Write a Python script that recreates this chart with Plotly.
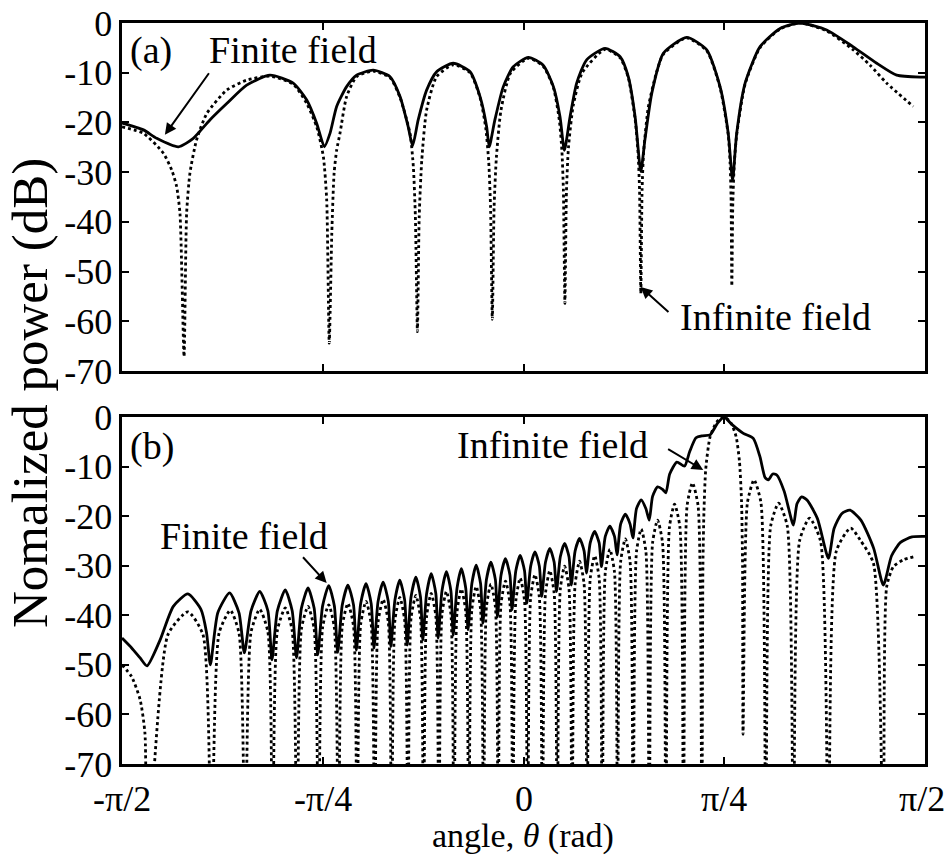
import math
import plotly.graph_objects as go

PI = math.pi

# ---------------- tick definitions ----------------
x_tick_vals = [-PI / 2, -PI / 4, 0.0, PI / 4, PI / 2]
x_tick_text = ["-π/2", "-π/4", "0", "π/4", "π/2"]
y_tick_vals = [0, -10, -20, -30, -40, -50, -60, -70]
y_tick_text = ["0", "-10", "-20", "-30", "-40", "-50", "-60", "-70"]

# ---------------- panel (a): (theta [rad], power [dB]) ----------------
a_finite = [
    (-1.5708, -20.1), (-1.487, -21.5), (-1.435, -23.2), (-1.350, -24.9), (-1.292, -23.2),
    (-1.227, -19.5), (-1.161, -16.2), (-1.083, -12.5), (-0.992, -10.5), (-0.901, -12.1),
    (-0.848, -15.5), (-0.809, -20.2), (-0.779, -24.9), (-0.757, -22.2), (-0.731, -16.8),
    (-0.692, -12.8), (-0.653, -10.5), (-0.588, -9.5), (-0.522, -10.8), (-0.483, -14.8),
    (-0.451, -20.9), (-0.434, -24.7), (-0.412, -19.5), (-0.379, -13.5), (-0.340, -9.8),
    (-0.275, -8.1), (-0.209, -9.8), (-0.170, -14.8), (-0.144, -20.9), (-0.134, -24.9),
    (-0.112, -19.5), (-0.079, -12.8), (-0.040, -8.8), (0.019, -6.9), (0.077, -8.5),
    (0.117, -12.8), (0.143, -18.9), (0.160, -25.6), (0.182, -18.9), (0.208, -12.1),
    (0.247, -7.4), (0.319, -5.1), (0.378, -6.8), (0.410, -10.8), (0.437, -19.0),
    (0.459, -29.9), (0.475, -23.5), (0.502, -14.1), (0.547, -6.1), (0.638, -2.9),
    (0.717, -5.4), (0.769, -12.8), (0.801, -22.2), (0.818, -31.6), (0.834, -22.2),
    (0.867, -12.1), (0.925, -4.8), (1.004, -1.1), (1.082, 0.0), (1.186, -1.4),
    (1.290, -4.8), (1.382, -8.1), (1.460, -10.5), (1.558, -10.9), (1.5708, -10.9),
]

a_infinite = [
    (-1.5708, -20.9), (-1.487, -22.2), (-1.409, -26.2), (-1.376, -29.6), (-1.357, -32.9),
    (-1.344, -38.3), (-1.328, -67.1), (-1.318, -38.3), (-1.305, -30.2), (-1.279, -23.5),
    (-1.239, -18.2), (-1.161, -13.5), (-1.083, -11.5), (-0.992, -10.7), (-0.901, -12.3),
    (-0.848, -16.2), (-0.809, -20.9), (-0.783, -26.9), (-0.770, -35.6), (-0.760, -64.4),
    (-0.750, -42.3), (-0.741, -30.2), (-0.731, -25.6), (-0.718, -22.2), (-0.692, -14.8),
    (-0.653, -10.8), (-0.588, -9.7), (-0.522, -11.0), (-0.483, -15.0), (-0.444, -22.2),
    (-0.431, -28.9), (-0.423, -39.0), (-0.415, -62.1), (-0.408, -39.0), (-0.398, -27.6),
    (-0.379, -17.5), (-0.340, -10.8), (-0.275, -8.4), (-0.209, -10.0), (-0.170, -15.0),
    (-0.148, -21.0), (-0.136, -28.0), (-0.129, -37.0), (-0.122, -59.6), (-0.115, -37.0),
    (-0.106, -27.0), (-0.088, -17.5), (-0.050, -10.0), (0.019, -7.1), (0.077, -8.7),
    (0.117, -13.0), (0.140, -19.5), (0.150, -25.5), (0.156, -33.5), (0.162, -56.4),
    (0.168, -34.0), (0.176, -25.0), (0.195, -16.5), (0.230, -10.0), (0.319, -5.3),
    (0.378, -7.0), (0.410, -11.0), (0.437, -19.5), (0.448, -26.0), (0.454, -33.5),
    (0.459, -54.4), (0.464, -33.5), (0.470, -26.0), (0.488, -17.0), (0.520, -10.0),
    (0.547, -6.3), (0.638, -3.0), (0.717, -5.6), (0.769, -13.0), (0.801, -22.5),
    (0.808, -28.0), (0.812, -35.0), (0.815, -52.9), (0.819, -36.0), (0.825, -28.0),
    (0.834, -22.5), (0.867, -12.3), (0.925, -5.0), (1.004, -1.2), (1.082, 0.0),
    (1.186, -1.6), (1.290, -5.4), (1.356, -8.5), (1.421, -12.1), (1.525, -16.8),
]

# ---------------- panel (b) ----------------
b_finite = [
    (-1.5708, -44.6), (-1.533, -46.6), (-1.500, -48.6), (-1.473, -50.2),
    (-1.422, -45.0), (-1.370, -38.2), (-1.313, -35.7), (-1.262, -38.8), (-1.240, -43.5), (-1.225, -50.0),
    (-1.196, -39.5), (-1.150, -35.5), (-1.113, -39.5), (-1.092, -47.6),
    (-1.066, -39.1), (-1.032, -35.2), (-1.000, -39.1), (-0.984, -49.0),
    (-0.963, -39.1), (-0.932, -34.9), (-0.905, -39.1), (-0.888, -48.6),
    (-0.869, -38.6), (-0.843, -34.5), (-0.819, -38.6), (-0.805, -48.0),
    (-0.786, -38.1), (-0.762, -34.0), (-0.740, -38.1), (-0.727, -47.5),
    (-0.709, -37.9), (-0.687, -33.9), (-0.665, -37.9), (-0.654, -47.0),
    (-0.637, -37.6), (-0.616, -33.6), (-0.596, -37.6), (-0.585, -46.6),
    (-0.569, -37.2), (-0.549, -33.3), (-0.529, -37.2), (-0.519, -46.3),
    (-0.503, -36.9), (-0.484, -32.9), (-0.465, -36.9), (-0.455, -46.0),
    (-0.440, -36.3), (-0.421, -32.3), (-0.403, -36.3), (-0.394, -45.0),
    (-0.379, -35.6), (-0.361, -31.6), (-0.343, -35.6), (-0.334, -44.6),
    (-0.319, -35.1), (-0.3015, -31.2), (-0.284, -35.1), (-0.275, -44.0),
    (-0.260, -34.5), (-0.243, -30.6), (-0.226, -34.5), (-0.217, -42.9),
    (-0.202, -33.6), (-0.185, -29.9), (-0.168, -33.6), (-0.159, -41.6),
    (-0.145, -32.8), (-0.1275, -29.3), (-0.110, -32.8), (-0.102, -40.3),
    (-0.088, -31.9), (-0.0705, -28.6), (-0.053, -31.9), (-0.045, -38.9),
    (-0.030, -31.0), (-0.013, -27.9), (0.004, -31.0), (0.013, -37.6),
    (0.028, -30.1), (0.045, -27.2), (0.062, -30.1), (0.071, -36.2),
    (0.086, -29.3), (0.103, -26.5), (0.120, -29.3), (0.129, -35.2),
    (0.144, -28.2), (0.161, -25.5), (0.178, -28.2), (0.187, -33.9),
    (0.202, -27.0), (0.2195, -24.5), (0.237, -27.0), (0.246, -31.5),
    (0.261, -25.4), (0.2785, -23.1), (0.296, -25.4), (0.305, -30.2),
    (0.320, -24.1), (0.338, -22.0), (0.356, -24.1), (0.366, -27.8),
    (0.380, -21.6), (0.3985, -19.6), (0.417, -21.6), (0.428, -24.4),
    (0.442, -18.5), (0.4605, -16.7), (0.479, -18.5), (0.492, -20.8),
    (0.505, -16.0), (0.5245, -14.1), (0.544, -14.6), (0.557, -15.3),
    (0.572, -11.5), (0.600, -9.1), (0.630, -9.9), (0.650, -7.0), (0.675, -4.2),
    (0.700, -3.8), (0.730, -3.6), (0.760, -1.2), (0.785, 0.0), (0.815, -1.5),
    (0.860, -3.3), (0.899, -4.3), (0.925, -8.0), (0.945, -12.2), (0.958, -12.7),
    (0.975, -11.5), (0.991, -11.7), (1.020, -15.0), (1.056, -21.8), (1.070, -17.5),
    (1.088, -16.1), (1.110, -16.8), (1.150, -20.5), (1.193, -28.5), (1.215, -22.5),
    (1.245, -19.5), (1.277, -18.8), (1.320, -20.8), (1.370, -26.5), (1.408, -33.9),
    (1.440, -28.0), (1.475, -25.3), (1.520, -24.2), (1.5708, -24.1),
]

b_infinite = [
    (-1.5708, -50.0), (-1.533, -52.4), (-1.500, -57.0), (-1.481, -63.8), (-1.472, -90.0),
    (-1.391, -43.9), (-1.313, -39.3), (-1.254, -43.9), (-1.221, -90.0),
    (-1.191, -43.6), (-1.147, -39.0), (-1.113, -43.6), (-1.089, -90.0),
    (-1.066, -43.4), (-1.032, -38.8), (-1.000, -43.4), (-0.982, -90.0),
    (-0.963, -43.1), (-0.932, -38.5), (-0.905, -43.1), (-0.886, -90.0),
    (-0.869, -42.8), (-0.843, -38.2), (-0.819, -42.8), (-0.802, -90.0),
    (-0.786, -42.5), (-0.762, -37.9), (-0.740, -42.5), (-0.724, -90.0),
    (-0.709, -42.2), (-0.687, -37.6), (-0.665, -42.2), (-0.651, -90.0),
    (-0.637, -41.8), (-0.616, -37.2), (-0.596, -41.8), (-0.582, -90.0),
    (-0.569, -41.4), (-0.549, -36.8), (-0.529, -41.4), (-0.516, -90.0),
    (-0.503, -41.0), (-0.484, -36.4), (-0.465, -41.0), (-0.452, -90.0),
    (-0.440, -40.6), (-0.421, -36.0), (-0.403, -40.6), (-0.391, -90.0),
    (-0.379, -40.2), (-0.361, -35.6), (-0.343, -40.2), (-0.331, -90.0),
    (-0.319, -39.8), (-0.3015, -35.2), (-0.284, -39.8), (-0.272, -90.0),
    (-0.260, -39.3), (-0.243, -34.7), (-0.226, -39.3), (-0.214, -90.0),
    (-0.202, -38.8), (-0.185, -34.2), (-0.168, -38.8), (-0.156, -90.0),
    (-0.145, -38.3), (-0.1275, -33.7), (-0.110, -38.3), (-0.099, -90.0),
    (-0.088, -37.7), (-0.0705, -33.1), (-0.053, -37.7), (-0.042, -90.0),
    (-0.030, -37.1), (-0.013, -32.5), (0.004, -37.1), (0.016, -90.0),
    (0.028, -36.4), (0.045, -31.8), (0.062, -36.4), (0.074, -90.0),
    (0.086, -35.6), (0.103, -31.0), (0.120, -35.6), (0.132, -90.0),
    (0.144, -34.7), (0.161, -30.1), (0.178, -34.7), (0.190, -90.0),
    (0.202, -33.7), (0.2195, -29.1), (0.237, -33.7), (0.249, -90.0),
    (0.261, -32.6), (0.2785, -28.0), (0.296, -32.6), (0.308, -90.0),
    (0.320, -31.3), (0.338, -26.7), (0.356, -31.3), (0.368, -90.0),
    (0.380, -29.2), (0.3985, -24.6), (0.417, -29.2), (0.429, -90.0),
    (0.442, -27.2), (0.4605, -22.6), (0.479, -27.2), (0.492, -90.0),
    (0.505, -25.4), (0.5245, -20.8), (0.544, -25.4), (0.557, -90.0),
    (0.571, -22.2), (0.591, -17.6), (0.612, -22.2), (0.626, -90.0),
    (0.640, -17.9), (0.661, -13.3), (0.683, -17.9), (0.6975, -90.0),
    (0.702, -30.0), (0.706, -19.0), (0.713, -10.5), (0.730, -4.0), (0.756, -1.0),
    (0.785, 0.0), (0.812, -1.2), (0.832, -4.0), (0.845, -9.0), (0.853, -17.0),
    (0.857, -30.0), (0.859, -64.0),
    (0.876, -17.3), (0.902, -12.7), (0.929, -17.3), (0.948, -90.0),
    (0.967, -22.0), (0.998, -17.4), (1.032, -22.0), (1.056, -90.0),
    (1.080, -25.0), (1.119, -20.4), (1.162, -25.0), (1.193, -90.0),
    (1.224, -27.0), (1.280, -22.4), (1.317, -24.8), (1.369, -29.5), (1.408, -90.0),
    (1.421, -34.2), (1.447, -30.2), (1.486, -28.8), (1.525, -28.2),
]

FONT = "Liberation Serif, Times New Roman, serif"
FS_TICK = 36
FS_ANN = 38
FS_YTITLE = 51
FS_XTITLE = 34


def xy(points):
    return [p[0] for p in points], [p[1] for p in points]


fig = go.Figure()

solid = dict(color="black", width=2.8, shape="spline", smoothing=0.6)
dotted = dict(color="black", width=2.8, dash="3px,3px", shape="spline", smoothing=0.6)

for pts, line, xa, ya in [
    (a_infinite, dotted, "x", "y"),
    (a_finite, solid, "x", "y"),
    (b_infinite, dotted, "x2", "y2"),
    (b_finite, solid, "x2", "y2"),
]:
    xs, ys = xy(pts)
    fig.add_trace(go.Scatter(x=xs, y=ys, mode="lines", line=line,
                             xaxis=xa, yaxis=ya, showlegend=False, hoverinfo="skip"))

axis_common = dict(
    showline=True, linewidth=2.6, linecolor="black", mirror="ticks",
    ticks="inside", ticklen=7, tickwidth=2, tickcolor="black",
    showgrid=False, zeroline=False,
    tickfont=dict(family=FONT, size=FS_TICK, color="black"),
)

fig.update_layout(
    width=950, height=856,
    margin=dict(l=122, r=25, t=23, b=92, autoexpand=False),
    paper_bgcolor="white", plot_bgcolor="white",
    font=dict(family=FONT, size=FS_TICK, color="black"),
    xaxis=dict(domain=[0, 1], anchor="y", range=[-PI / 2, PI / 2],
               tickvals=x_tick_vals, showticklabels=False, **axis_common),
    yaxis=dict(domain=[0.5304, 1.0], anchor="x", range=[-70, 0],
               tickvals=y_tick_vals, ticktext=y_tick_text, **axis_common),
    xaxis2=dict(domain=[0, 1], anchor="y2", range=[-PI / 2, PI / 2],
                tickvals=x_tick_vals, showticklabels=False, **axis_common),
    yaxis2=dict(domain=[0.0, 0.4683], anchor="x2", range=[-70, 0],
                tickvals=y_tick_vals, ticktext=y_tick_text, **axis_common),
)

txt = dict(family=FONT, size=FS_ANN, color="black")
arrow = dict(text="", showarrow=True, arrowhead=2, arrowsize=1.15, arrowwidth=2, arrowcolor="black")
ann = []
# x tick labels of the lower axis (placed as text so the last one stays inside the page)
XLAB_Y = -0.0472  # ~799 px
tick_font = dict(family=FONT, size=FS_TICK, color="black")
for i, (v, t) in enumerate(zip(x_tick_vals, x_tick_text)):
    if i == len(x_tick_vals) - 1:
        ann.append(dict(x=1.0274, y=XLAB_Y, xref="paper", yref="paper", text=t, showarrow=False,
                        xanchor="right", yanchor="middle", font=tick_font))
    else:
        ann.append(dict(x=v, y=XLAB_Y, xref="x2", yref="paper", text=t, showarrow=False,
                        xanchor="center", yanchor="middle", font=tick_font))
# labels in panel (a)
ann.append(dict(x=-1.548, y=-5.6, xref="x", yref="y", text="(a)", showarrow=False,
                xanchor="left", yanchor="middle", font=txt))
ann.append(dict(x=-1.238, y=-5.4, xref="x", yref="y", text="Finite field", showarrow=False,
                xanchor="left", yanchor="middle", font=txt))
ann.append(dict(x=-1.403, y=-22.5, xref="x", yref="y", ax=-1.2265, ay=-9.8, axref="x", ayref="y", **arrow))
ann.append(dict(x=0.6057, y=-59.2, xref="x", yref="y", text="Infinite field", showarrow=False,
                xanchor="left", yanchor="middle", font=txt))
ann.append(dict(x=0.4585, y=-53.1, xref="x", yref="y", ax=0.573, ay=-58.4, axref="x", ayref="y", **arrow))
# labels in panel (b)
ann.append(dict(x=-1.548, y=-6.0, xref="x2", yref="y2", text="(b)", showarrow=False,
                xanchor="left", yanchor="middle", font=txt))
ann.append(dict(x=-1.430, y=-24.0, xref="x2", yref="y2", text="Finite field", showarrow=False,
                xanchor="left", yanchor="middle", font=txt))
ann.append(dict(x=-0.770, y=-33.5, xref="x2", yref="y2", ax=-0.868, ay=-28.0, axref="x2", ayref="y2", **arrow))
ann.append(dict(x=-0.268, y=-5.6, xref="x2", yref="y2", text="Infinite field", showarrow=False,
                xanchor="left", yanchor="middle", font=txt))
ann.append(dict(x=0.703, y=-10.7, xref="x2", yref="y2", ax=0.560, ay=-6.3, axref="x2", ayref="y2", **arrow))
# axis titles
ann.append(dict(x=-0.1146, y=0.5007, xref="paper", yref="paper", text="Nomalized power (dB)",
                showarrow=False, textangle=-90, xanchor="center", yanchor="middle",
                font=dict(family=FONT, size=FS_YTITLE, color="black")))
ann.append(dict(x=0.4994, y=-0.0972, xref="paper", yref="paper", text="angle, <i>θ</i> (rad)",
                showarrow=False, xanchor="center", yanchor="middle",
                font=dict(family=FONT, size=FS_XTITLE, color="black")))
fig.update_layout(annotations=ann)

page_fix = ("document.documentElement.style.margin='0';document.body.style.margin='0';"
            "document.body.style.padding='0';document.documentElement.style.overflow='hidden';"
            "document.body.style.overflow='hidden';")
fig.write_html("out.html", post_script=page_fix, config={"displayModeBar": False, "staticPlot": True})
